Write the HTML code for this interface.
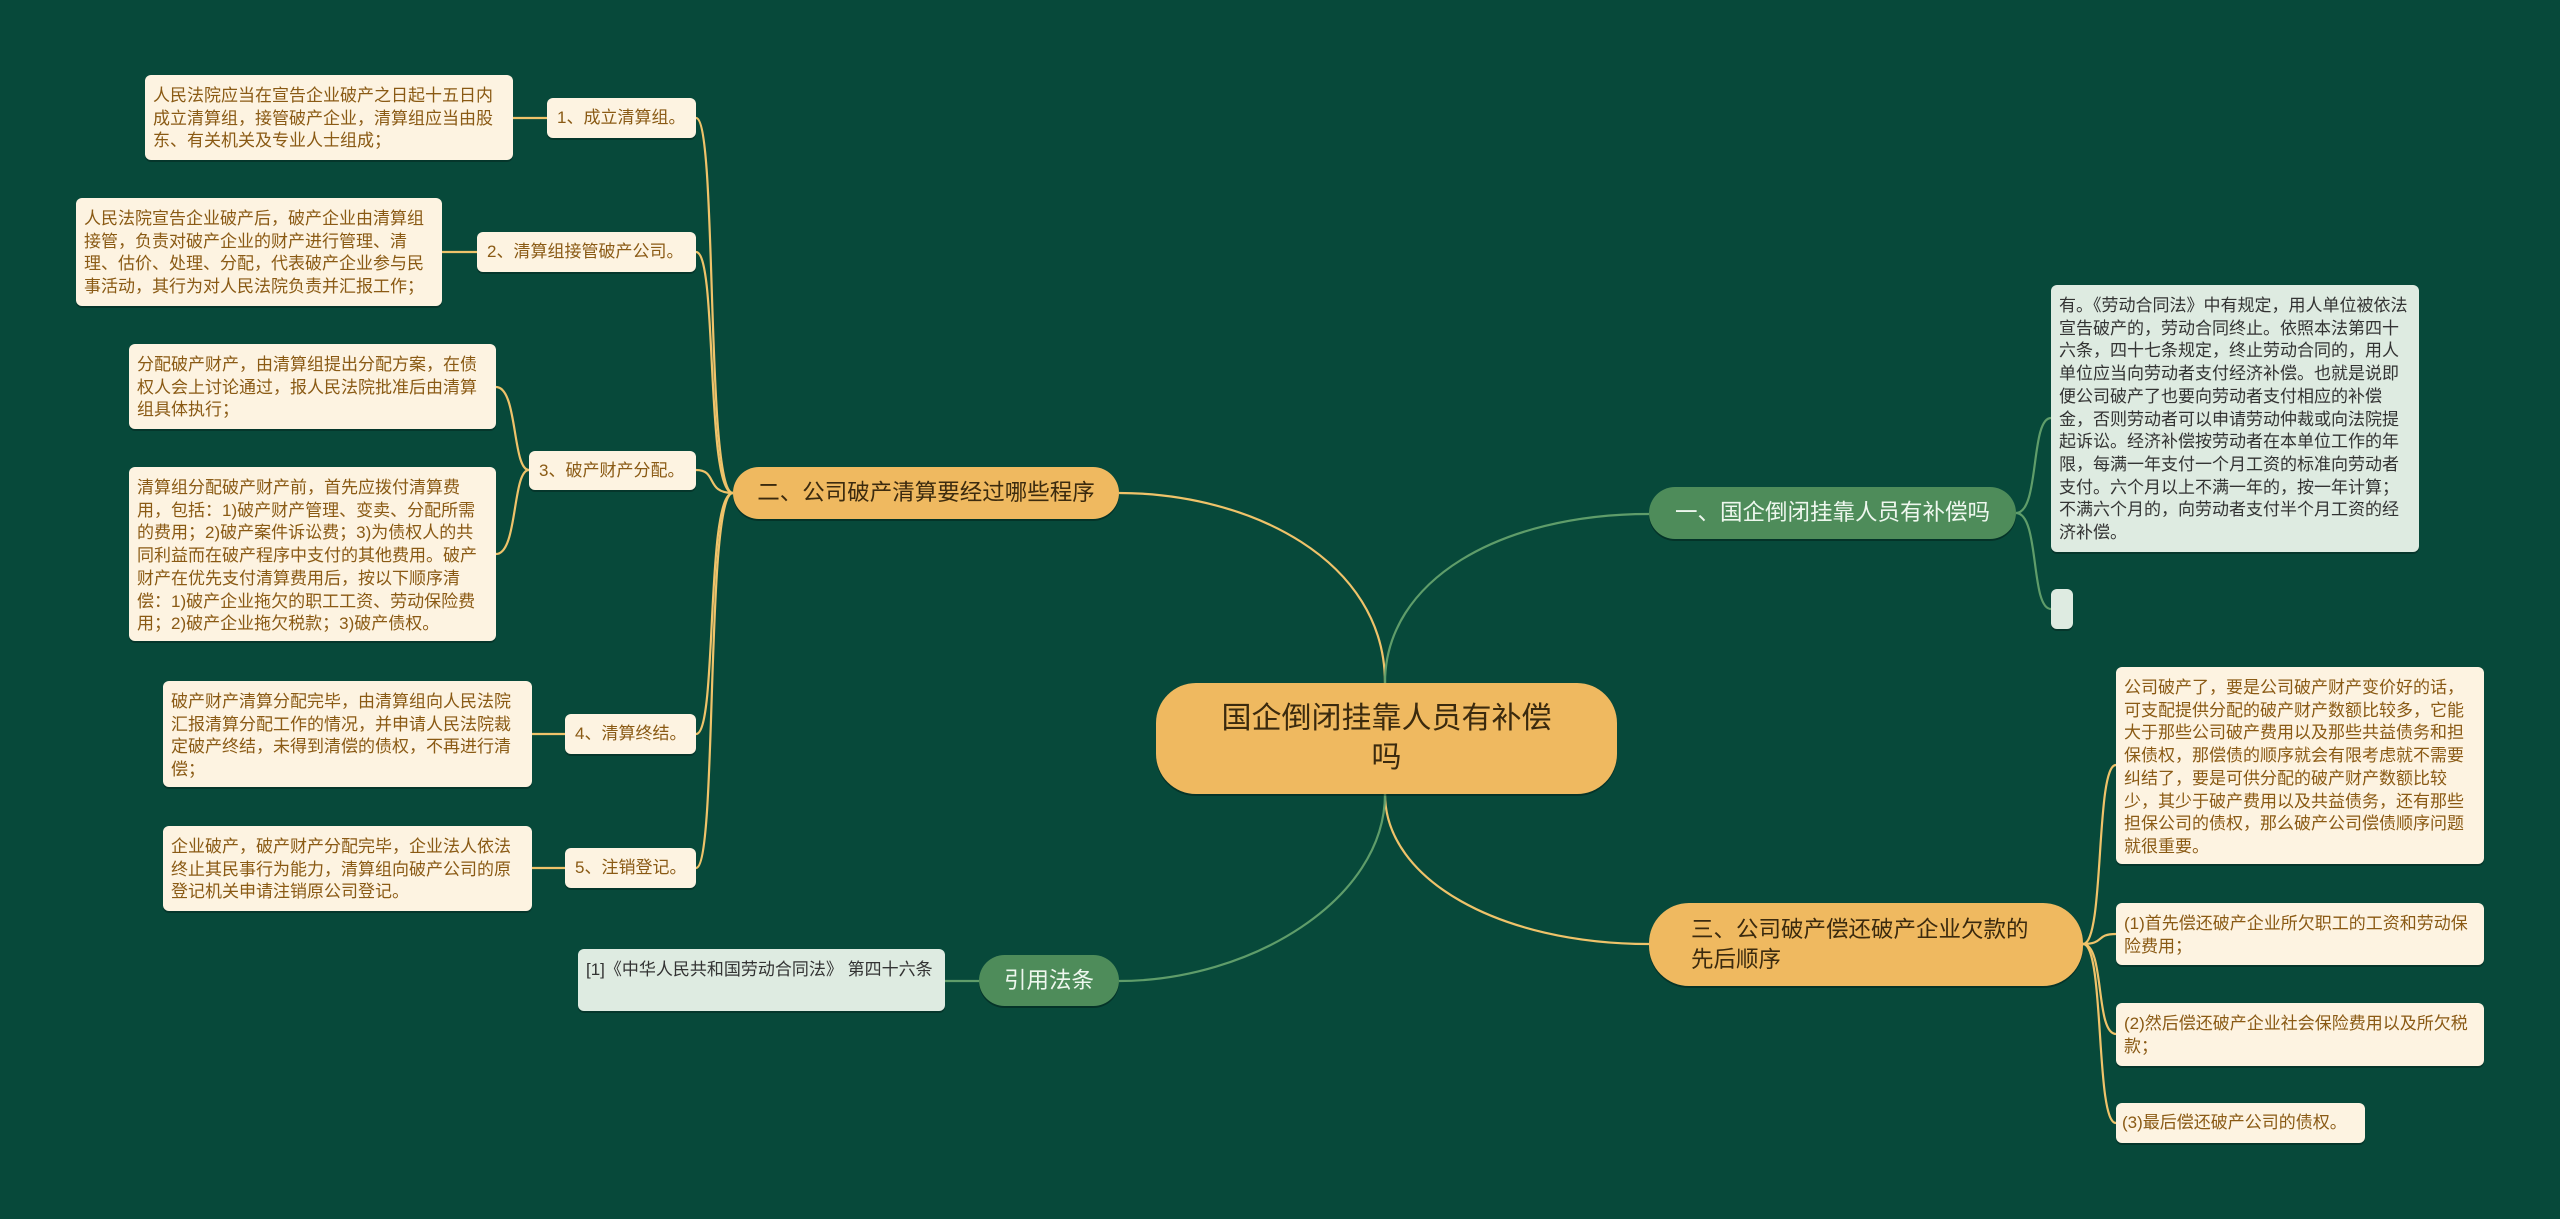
<!DOCTYPE html>
<html><head><meta charset="utf-8"><style>
body{margin:0;width:2560px;height:1219px;background:#07493a;overflow:hidden;position:relative;font-family:"Liberation Sans","Noto Sans CJK SC",sans-serif;}
.n{position:absolute;box-sizing:border-box;}
.leaf{background:#fdf3e1;color:#8a5a14;font-size:17px;line-height:22.7px;padding:10px 8px;border-radius:6px;box-shadow:0 2px 0 rgba(0,0,0,.25);word-break:break-all;}
.sub{background:#fdf3e1;color:#8a5a14;font-size:17px;line-height:40px;padding:0 10px;border-radius:6px;box-shadow:0 2px 0 rgba(0,0,0,.25);white-space:nowrap;}
.gleaf{background:#deebe1;color:#333;font-size:17px;line-height:22.7px;padding:10px 8px;border-radius:6px;box-shadow:0 2px 0 rgba(0,0,0,.25);word-break:break-all;}
.or{background:#efb960;color:#3b2a0e;border-radius:40px;box-shadow:0 2px 0 rgba(0,0,0,.3);}
.gr{background:#4e8c5a;color:#eef7ee;border-radius:30px;box-shadow:0 2px 0 rgba(0,0,0,.3);}
</style></head><body>
<svg width="2560" height="1219" style="position:absolute;left:0;top:0" fill="none" stroke-width="2.2">
<g stroke="#efc36a">
<path d="M1385 683 C1385 560 1250 493 1119 493"/>
<path d="M1385 794 C1385 880 1500 944 1649 944"/>
<path d="M733 493 C705 493 718 118 696 118"/>
<path d="M733 493 C705 493 718 252 696 252"/>
<path d="M733 493 C705 493 718 470 696 470"/>
<path d="M733 493 C705 493 718 734 696 734"/>
<path d="M733 493 C705 493 718 868 696 868"/>
<path d="M547 118 L513 118"/>
<path d="M477 252 L442 252"/>
<path d="M529 470 C512 470 518 387 496 387"/>
<path d="M529 470 C512 470 518 554 496 554"/>
<path d="M565 734 L532 734"/>
<path d="M565 868 L532 868"/>
<path d="M2083 944 C2105 944 2095 765 2116 765"/>
<path d="M2083 944 C2105 944 2095 934 2116 934"/>
<path d="M2083 944 C2105 944 2095 1034 2116 1034"/>
<path d="M2083 944 C2105 944 2095 1123 2116 1123"/>
</g>
<g stroke="#5f9d6a">
<path d="M1385 683 C1385 580 1500 514 1649 514"/>
<path d="M1385 794 C1385 900 1250 981 1119 981"/>
<path d="M2016 513 C2040 513 2030 418 2051 418"/>
<path d="M2016 513 C2040 513 2030 609 2051 609"/>
<path d="M979 981 L945 981"/>
</g>
</svg>

<div class="n or" style="left:1156px;top:683px;width:461px;height:111px;font-size:30px;line-height:39px;text-align:center;padding-top:16px;">国企倒闭挂靠人员有补偿<br>吗</div>

<div class="n or" style="left:733px;top:467px;width:386px;height:52px;font-size:22.5px;line-height:52px;text-align:center;">二、公司破产清算要经过哪些程序</div>
<div class="n gr" style="left:1649px;top:487px;width:367px;height:52px;font-size:22.5px;line-height:52px;text-align:center;">一、国企倒闭挂靠人员有补偿吗</div>
<div class="n or" style="left:1649px;top:903px;width:434px;height:83px;font-size:22.5px;line-height:30px;padding:12px 0 0 42px;">三、公司破产偿还破产企业欠款的<br>先后顺序</div>
<div class="n gr" style="left:979px;top:955px;width:140px;height:51px;font-size:22.5px;line-height:51px;text-align:center;">引用法条</div>

<div class="n sub" style="left:547px;top:98px;width:149px;height:40px;">1、成立清算组。</div>
<div class="n sub" style="left:477px;top:232px;width:219px;height:40px;">2、清算组接管破产公司。</div>
<div class="n sub" style="left:529px;top:451px;width:167px;height:39px;">3、破产财产分配。</div>
<div class="n sub" style="left:565px;top:714px;width:131px;height:40px;">4、清算终结。</div>
<div class="n sub" style="left:565px;top:848px;width:131px;height:40px;">5、注销登记。</div>

<div class="n leaf" style="left:145px;top:75px;width:368px;height:85px;">人民法院应当在宣告企业破产之日起十五日内成立清算组，接管破产企业，清算组应当由股东、有关机关及专业人士组成；</div>
<div class="n leaf" style="left:76px;top:198px;width:366px;height:108px;">人民法院宣告企业破产后，破产企业由清算组接管，负责对破产企业的财产进行管理、清理、估价、处理、分配，代表破产企业参与民事活动，其行为对人民法院负责并汇报工作；</div>
<div class="n leaf" style="left:129px;top:344px;width:367px;height:85px;">分配破产财产，由清算组提出分配方案，在债权人会上讨论通过，报人民法院批准后由清算组具体执行；</div>
<div class="n leaf" style="left:129px;top:467px;width:367px;height:174px;">清算组分配破产财产前，首先应拨付清算费用，包括：1)破产财产管理、变卖、分配所需的费用；2)破产案件诉讼费；3)为债权人的共同利益而在破产程序中支付的其他费用。破产财产在优先支付清算费用后，按以下顺序清偿：1)破产企业拖欠的职工工资、劳动保险费用；2)破产企业拖欠税款；3)破产债权。</div>
<div class="n leaf" style="left:163px;top:681px;width:369px;height:106px;">破产财产清算分配完毕，由清算组向人民法院汇报清算分配工作的情况，并申请人民法院裁定破产终结，未得到清偿的债权，不再进行清偿；</div>
<div class="n leaf" style="left:163px;top:826px;width:369px;height:85px;">企业破产，破产财产分配完毕，企业法人依法终止其民事行为能力，清算组向破产公司的原登记机关申请注销原公司登记。</div>

<div class="n gleaf" style="left:578px;top:949px;width:367px;height:62px;">[1]《中华人民共和国劳动合同法》 第四十六条</div>

<div class="n gleaf" style="left:2051px;top:285px;width:368px;height:267px;">有。《劳动合同法》中有规定，用人单位被依法宣告破产的，劳动合同终止。依照本法第四十六条，四十七条规定，终止劳动合同的，用人单位应当向劳动者支付经济补偿。也就是说即便公司破产了也要向劳动者支付相应的补偿金，否则劳动者可以申请劳动仲裁或向法院提起诉讼。经济补偿按劳动者在本单位工作的年限，每满一年支付一个月工资的标准向劳动者支付。六个月以上不满一年的，按一年计算；不满六个月的，向劳动者支付半个月工资的经济补偿。</div>
<div class="n gleaf" style="left:2051px;top:589px;width:22px;height:40px;padding:0;"></div>

<div class="n leaf" style="left:2116px;top:667px;width:368px;height:197px;">公司破产了，要是公司破产财产变价好的话，可支配提供分配的破产财产数额比较多，它能大于那些公司破产费用以及那些共益债务和担保债权，那偿债的顺序就会有限考虑就不需要纠结了，要是可供分配的破产财产数额比较少，其少于破产费用以及共益债务，还有那些担保公司的债权，那么破产公司偿债顺序问题就很重要。</div>
<div class="n leaf" style="left:2116px;top:903px;width:368px;height:62px;">(1)首先偿还破产企业所欠职工的工资和劳动保险费用；</div>
<div class="n leaf" style="left:2116px;top:1003px;width:368px;height:63px;">(2)然后偿还破产企业社会保险费用以及所欠税款；</div>
<div class="n leaf" style="left:2116px;top:1103px;width:249px;height:40px;padding:9px 6px 0;white-space:nowrap;">(3)最后偿还破产公司的债权。</div>
</body></html>
